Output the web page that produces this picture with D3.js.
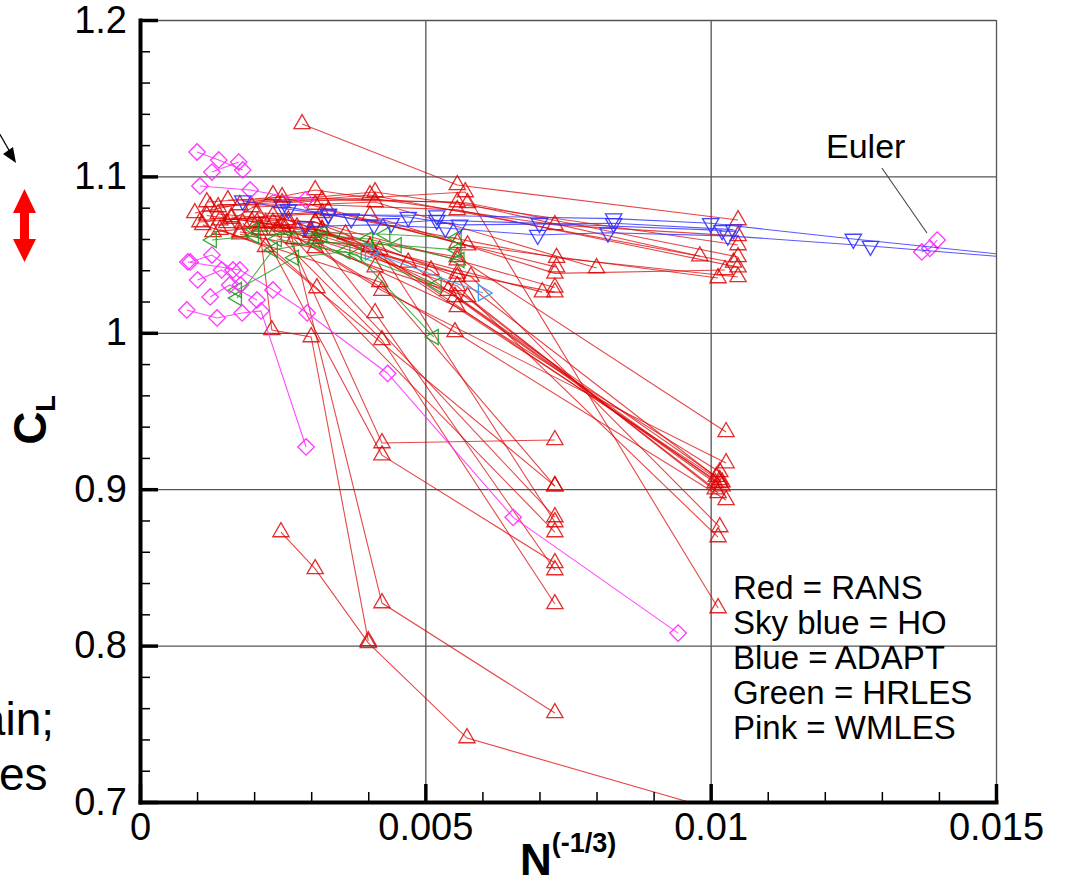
<!DOCTYPE html>
<html>
<head>
<meta charset="utf-8">
<script src="https://cdn.jsdelivr.net/npm/d3@7"></script>
<style>
  body { margin: 0; background: #fff; }
  svg text { font-family: 'Liberation Sans', Arial, Helvetica, sans-serif; }
</style>
</head>
<body>
<div id="chart-area"></div>
<script>
// tick values
const xTicks = [0, 0.005, 0.01, 0.015]
const yTicks = [0.7, 0.8, 0.9, 1, 1.1, 1.2]
const xMinor = [0.001, 0.002, 0.003, 0.004, 0.006, 0.007, 0.008, 0.009, 0.011, 0.012, 0.013, 0.014]
const yMinor = [0.72, 0.74, 0.76, 0.78, 0.82, 0.84, 0.86, 0.88, 0.92, 0.94, 0.96, 0.98,
                1.02, 1.04, 1.06, 1.08, 1.12, 1.14, 1.16, 1.18]

const legendLines = ['Red = RANS', 'Sky blue = HO', 'Blue = ADAPT', 'Green = HRLES', 'Pink = WMLES']

// each series = one grid-convergence path [N^(-1/3), CL]
const rans = [
  // upper, flat
  [[0.00284, 1.1335], [0.00556, 1.0945], [0.01048, 1.0721]],
  [[0.00096, 1.0766], [0.00307, 1.0913], [0.00727, 1.069], [0.01048, 1.062]],
  [[0.00123, 1.0808], [0.00412, 1.090], [0.01048, 1.0561]],
  [[0.00154, 1.0849], [0.00319, 1.0849], [0.00556, 1.0836], [0.00981, 1.049]],
  [[0.00117, 1.0836], [0.00249, 1.0868], [0.00574, 1.083], [0.01048, 1.0485]],
  [[0.00137, 1.0804], [0.00403, 1.0881], [0.01040, 1.045]],
  [[0.00175, 1.0817], [0.00307, 1.082], [0.00556, 1.0786], [0.01048, 1.042]],
  [[0.00196, 1.0804], [0.00412, 1.0836], [0.00800, 1.0414]],
  [[0.00105, 1.0708], [0.00319, 1.0766], [0.00730, 1.048], [0.01048, 1.0357]],
  [[0.00152, 1.0702], [0.00233, 1.0881], [0.00556, 1.0575], [0.00730, 1.042]],
  [[0.00205, 1.0766], [0.00403, 1.0750], [0.00727, 1.038], [0.01025, 1.0402]],
  [[0.00128, 1.0645], [0.00307, 1.0708], [0.00556, 1.0465], [0.00727, 1.029]],
  [[0.00175, 1.0645], [0.00403, 1.0549], [0.00705, 1.026]],
  [[0.00233, 1.0750], [0.00556, 1.038], [0.00727, 1.026]],
  [[0.00140, 1.0720], [0.00330, 1.0780], [0.00574, 1.056], [0.01013, 1.035]],
  // bundle ending near 0.0102
  [[0.00137, 1.0760], [0.00307, 1.0706], [0.00556, 1.0357], [0.01016, 0.9059]],
  [[0.00160, 1.0730], [0.00319, 1.0655], [0.00552, 1.023], [0.01008, 0.904]],
  [[0.00196, 1.0710], [0.00412, 1.042], [0.00574, 1.023], [0.01013, 0.8976]],
  [[0.00233, 1.0705], [0.00424, 1.027], [0.01027, 0.9167]],
  [[0.00249, 1.0680], [0.00556, 1.0165], [0.01016, 0.911]],
  [[0.00175, 1.0630], [0.00307, 1.0543], [0.00552, 1.0005], [0.01027, 0.8931]],
  [[0.00275, 1.0675], [0.00403, 1.0549], [0.01016, 0.904]],
  [[0.00300, 1.0640], [0.00510, 1.040], [0.01008, 0.900]],
  [[0.00117, 1.0750], [0.00360, 1.063], [0.01020, 0.9045]],
  [[0.00205, 1.0705], [0.00556, 1.0485], [0.01027, 0.9366]],
  [[0.00240, 1.0660], [0.00580, 1.036], [0.01016, 0.8758]],
  [[0.00307, 1.0600], [0.00556, 1.030], [0.01013, 0.8694]],
  [[0.00249, 1.0830], [0.00570, 1.090], [0.01013, 0.824]],
  [[0.00319, 1.0660], [0.00540, 1.027], [0.01010, 0.908]],
  [[0.00260, 1.0720], [0.00470, 1.045], [0.01020, 0.902]],
  // steep, ending near 0.0073
  [[0.00160, 1.0740], [0.00249, 1.0700], [0.00424, 0.9295], [0.00727, 0.9315]],
  [[0.00210, 1.0680], [0.00424, 0.9218], [0.00727, 0.8528]],
  [[0.00140, 1.0660], [0.00220, 1.0550], [0.00727, 0.902]],
  [[0.00270, 1.0600], [0.00727, 0.8822]],
  [[0.00420, 1.0530], [0.00727, 0.879]],
  [[0.00180, 1.0700], [0.00310, 1.0286], [0.00727, 0.8726]],
  [[0.00300, 1.0650], [0.00412, 1.0127], [0.00727, 0.8483]],
  [[0.00220, 1.0700], [0.00424, 0.9954], [0.00727, 0.8266]],
  [[0.00110, 1.0690], [0.00420, 1.0325], [0.00727, 0.9020]],
  [[0.00247, 0.8726], [0.00307, 0.8490], [0.00400, 0.8017], [0.00573, 0.7409], [0.00990, 0.6970]],
  [[0.00210, 1.0660], [0.00231, 1.0018], [0.00300, 0.9973], [0.00400, 0.8030]],
  [[0.00260, 1.0700], [0.00424, 0.8272], [0.00727, 0.7569]]
]

const ho = [
  [[0.00403, 1.0517], [0.00601, 1.0255]]
]

const adapt = [
  [[0.00180, 1.0845], [0.00260, 1.0790], [0.00330, 1.0755], [0.00520, 1.0750], [0.00830, 1.0730], [0.01000, 1.0700], [0.01250, 1.0600], [0.01700, 1.0430]],
  [[0.00290, 1.0680], [0.00410, 1.0690], [0.00535, 1.0670], [0.00697, 1.0625], [0.00820, 1.0640], [0.01030, 1.0620], [0.01280, 1.0555], [0.01700, 1.0430]],
  [[0.00250, 1.0810], [0.00370, 1.0730], [0.00440, 1.0700], [0.00520, 1.0720], [0.00700, 1.0700], [0.01020, 1.0655]],
  [[0.00330, 1.0760], [0.00470, 1.0740], [0.00560, 1.0690], [0.00830, 1.0700], [0.01040, 1.0660]]
]

const hrles = [
  [[0.00126, 1.0593], [0.00200, 1.0620], [0.00320, 1.0640], [0.00430, 1.0630], [0.00555, 1.0606]],
  [[0.00170, 1.0222], [0.00233, 1.0530], [0.00310, 1.0580], [0.00450, 1.0560], [0.00555, 1.0530]],
  [[0.00170, 1.0274], [0.00270, 1.0480], [0.00360, 1.0520], [0.00520, 1.0306]],
  [[0.00240, 1.0600], [0.00380, 1.0500], [0.00515, 0.9973]],
  [[0.00200, 1.0660], [0.00400, 1.0600], [0.00560, 1.0465]]
]

const wmles = [
  [[0.00100, 1.1156], [0.00138, 1.1105], [0.00180, 1.1041]],
  [[0.00126, 1.1028], [0.00173, 1.1092]],
  [[0.00105, 1.0939], [0.00193, 1.0913], [0.00290, 1.0850]],
  [[0.00088, 1.0453], [0.00126, 1.0497], [0.00163, 1.0402]],
  [[0.00101, 1.0338], [0.00143, 1.0402], [0.00176, 1.0306]],
  [[0.00082, 1.0146], [0.00135, 1.0095], [0.00179, 1.0127], [0.00212, 1.0140], [0.00291, 0.9270]],
  [[0.00123, 1.0229], [0.00157, 1.0306], [0.00205, 1.0210]],
  [[0.00084, 1.0453], [0.00175, 1.0402], [0.00233, 1.0274], [0.00293, 1.0127], [0.00434, 0.9740], [0.00654, 0.8820], [0.00943, 0.8080]]
]

const euler = [
  [[0.01370, 1.0517], [0.01384, 1.0540], [0.01397, 1.0593]]
]

const canvas = { width: 1068, height: 886 }
const margin = { left: 140, right: 72, top: 20, bottom: 84 }
const plot = {
  width: canvas.width - margin.left - margin.right,
  height: canvas.height - margin.top - margin.bottom
}

const svg = d3.select('#chart-area')
  .append('svg')
  .attr('width', canvas.width)
  .attr('height', canvas.height)

svg.append('defs').append('clipPath')
  .attr('id', 'plot-clip')
  .append('rect')
  .attr('width', plot.width)
  .attr('height', plot.height)

const g = svg.append('g')
  .attr('transform', `translate(${margin.left},${margin.top})`)

const x = d3.scaleLinear().domain([0, 0.015]).range([0, plot.width])
const y = d3.scaleLinear().domain([0.7, 1.2]).range([plot.height, 0])

// grid (also gives the thin top/right frame)
g.append('g')
  .attr('transform', `translate(0,${plot.height})`)
  .call(d3.axisBottom(x).tickValues(xTicks).tickSize(-plot.height).tickFormat(''))
  .call(a => a.select('.domain').remove())
  .selectAll('line').attr('stroke', '#555').attr('stroke-width', 1.3)
g.append('g')
  .call(d3.axisLeft(y).tickValues(yTicks).tickSize(-plot.width).tickFormat(''))
  .call(a => a.select('.domain').remove())
  .selectAll('line').attr('stroke', '#555').attr('stroke-width', 1.3)

// series
const line = d3.line().x(d => x(d[0])).y(d => y(d[1]))

function drawSeries(list, style) {
  const grp = g.append('g').attr('clip-path', 'url(#plot-clip)')
  grp.selectAll('.series')
    .data(list)
    .enter()
    .append('path')
    .attr('d', line)
    .attr('fill', 'none')
    .attr('stroke', style.color)
    .attr('stroke-width', 1.1)
    .attr('stroke-opacity', style.opacity)
  grp.selectAll('.mark')
    .data(list.flat().filter(d => d[0] <= 0.015 && d[1] >= 0.7))
    .enter()
    .append('path')
    .attr('d', d3.symbol().type(style.symbol).size(style.size))
    .attr('transform', d => `translate(${x(d[0])},${y(d[1])}) rotate(${style.rotate})`)
    .attr('fill', 'none')
    .attr('stroke', style.color)
    .attr('stroke-width', 1.3)
    .attr('stroke-opacity', style.opacity + 0.1)
}

drawSeries(rans, { color: '#dd0000', opacity: 0.72, symbol: d3.symbolTriangle, size: 115, rotate: 0 })
drawSeries(hrles, { color: '#1f9f1f', opacity: 0.8, symbol: d3.symbolTriangle, size: 100, rotate: -90 })
drawSeries(wmles, { color: '#ff2cff', opacity: 0.85, symbol: d3.symbolSquare, size: 135, rotate: 45 })
drawSeries(euler, { color: '#ff2cff', opacity: 0.85, symbol: d3.symbolSquare, size: 135, rotate: 45 })
drawSeries(ho, { color: '#3a9cf0', opacity: 0.9, symbol: d3.symbolTriangle, size: 110, rotate: 90 })
drawSeries(adapt, { color: '#3030ff', opacity: 0.8, symbol: d3.symbolTriangle, size: 115, rotate: 180 })

// minor ticks
g.append('g')
  .attr('transform', `translate(0,${plot.height})`)
  .call(d3.axisBottom(x).tickValues(xMinor).tickSize(-10).tickFormat(''))
  .call(a => a.select('.domain').remove())
  .selectAll('line').attr('stroke', '#000').attr('stroke-width', 1.5)
g.append('g')
  .call(d3.axisLeft(y).tickValues(yMinor).tickSize(-10).tickFormat(''))
  .call(a => a.select('.domain').remove())
  .selectAll('line').attr('stroke', '#000').attr('stroke-width', 1.5)

// major axes
const xAxis = g.append('g')
  .attr('transform', `translate(0,${plot.height})`)
  .call(d3.axisBottom(x).tickValues(xTicks).tickSize(-18).tickSizeOuter(0).tickPadding(11)
    .tickFormat(d3.format('')))
const yAxis = g.append('g')
  .call(d3.axisLeft(y).tickValues(yTicks).tickSize(-18).tickSizeOuter(0).tickPadding(13)
    .tickFormat(d3.format('')))

;[xAxis, yAxis].forEach(a => {
  a.select('.domain').attr('stroke', '#000').attr('stroke-width', 4).attr('stroke-linecap', 'square')
  a.selectAll('.tick line').attr('stroke', '#000').attr('stroke-width', 3.5)
  a.selectAll('.tick text').attr('fill', '#000').attr('font-size', 38)
    .attr('font-family', "'Liberation Sans', Arial, sans-serif")
})

// axis titles
svg.append('text')
  .attr('x', 520)
  .attr('y', 875)
  .attr('font-weight', 'bold')
  .attr('font-size', 44)
  .text('N')
  .append('tspan')
  .attr('dy', -23)
  .attr('font-size', 27)
  .text('(-1/3)')

const yTitle = svg.append('text')
  .attr('transform', 'translate(46,420) rotate(-90)')
  .attr('text-anchor', 'middle')
  .attr('font-weight', 'bold')
  .attr('font-size', 46)
yTitle.append('tspan').text('C')
yTitle.append('tspan').attr('dy', 9).attr('font-size', 27).text('L')

// legend text
svg.append('g')
  .selectAll('text')
  .data(legendLines)
  .enter()
  .append('text')
  .attr('x', 733)
  .attr('y', (d, i) => 599 + i * 35)
  .attr('font-size', 33)
  .attr('fill', '#000')
  .text(d => d)

// Euler label with leader line
svg.append('text')
  .attr('x', 826)
  .attr('y', 158)
  .attr('font-size', 34)
  .text('Euler')
g.append('line')
  .attr('x1', x(0.0130)).attr('y1', y(1.1054))
  .attr('x2', x(0.01379)).attr('y2', y(1.0638))
  .attr('stroke', '#444')
  .attr('stroke-width', 1.1)

// cut-off slide annotations on the left edge
svg.append('line')
  .attr('x1', -6).attr('y1', 124).attr('x2', 10).attr('y2', 152)
  .attr('stroke', '#000').attr('stroke-width', 1.3)
svg.append('path')
  .attr('d', 'M16,163 L3,154 L13,147 Z')
  .attr('fill', '#000')
svg.append('path')
  .attr('d', 'M24.5,189 L36,213 L29,213 L29,239 L36,239 L24.5,262 L13,239 L20,239 L20,213 L13,213 Z')
  .attr('fill', '#ff0000')
svg.append('text')
  .attr('x', 54).attr('y', 735)
  .attr('text-anchor', 'end')
  .attr('font-family', 'Lato, "Open Sans", sans-serif')
  .attr('font-size', 46)
  .text('main;')
svg.append('text')
  .attr('x', -1).attr('y', 790)
  .attr('font-family', 'Lato, "Open Sans", sans-serif')
  .attr('font-size', 46)
  .text('es')
</script>
</body>
</html>
